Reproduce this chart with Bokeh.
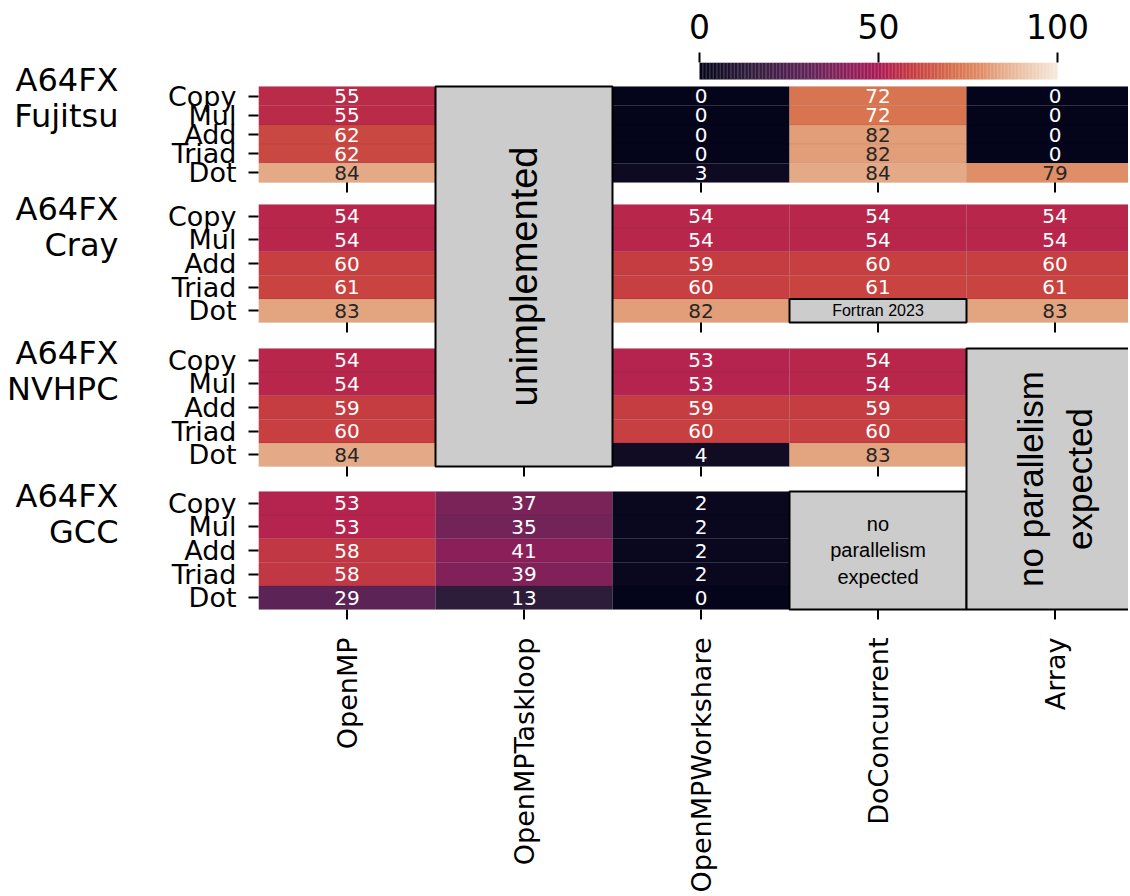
import numpy as np
from bokeh.plotting import figure
from bokeh.models import (Range1d, LinearAxis, FixedTicker, ColumnDataSource, AllLabels)
from bokeh.transform import linear_cmap
from bokeh.core.properties import value
from bokeh.embed import file_html
from bokeh.resources import INLINE

# ---------------- data ----------------
methods = ["OpenMP", "OpenMPTaskloop", "OpenMPWorkshare", "DoConcurrent", "Array"]
kernels = ["Copy", "Mul", "Add", "Triad", "Dot"]
compilers = ["A64FX\nFujitsu", "A64FX\nCray", "A64FX\nNVHPC", "A64FX\nGCC"]

# rows = kernels, columns = methods ; None = not available
fujitsu_vals = [
    [55, None, 0, 72, 0],
    [55, None, 0, 72, 0],
    [62, None, 0, 82, 0],
    [62, None, 0, 82, 0],
    [84, None, 3, 84, 79],
]
cray_vals = [
    [54, None, 54, 54, 54],
    [54, None, 54, 54, 54],
    [60, None, 59, 60, 60],
    [61, None, 60, 61, 61],
    [83, None, 82, None, 83],
]
nvhpc_vals = [
    [54, None, 53, 54, None],
    [54, None, 53, 54, None],
    [59, None, 59, 59, None],
    [60, None, 60, 60, None],
    [84, None, 4, 83, None],
]
gcc_vals = [
    [53, 37, 2, None, None],
    [53, 35, 2, None, None],
    [58, 41, 2, None, None],
    [58, 39, 2, None, None],
    [29, 13, 0, None, None],
]
group_values = [fujitsu_vals, cray_vals, nvhpc_vals, gcc_vals]

cbar_ticks = [0, 50, 100]

# annotation boxes: text, column, first (group,row), last (group,row)
box_texts = ["unimplemented", "Fortran 2023", "no\nparallelism\nexpected", "no parallelism\nexpected"]
box_cols = [1, 3, 3, 4]
box_start = [(0, 0), (1, 4), (3, 0), (2, 0)]
box_end = [(2, 4), (1, 4), (3, 4), (3, 4)]

# ---------------- layout / style ----------------
FONT = "DejaVu Sans"
BOXFONT = "Liberation Sans"
left_b, top_b = 258, 62
tick_len = 10
frame_w, frame_h = 870, 547 + tick_len + 18
col_px = 177.0
row_h = [19.2, 23.6, 23.6, 23.6]       # px per row for each group
group_top = [24, 142, 286, 429]        # px from frame top
cb_left_col, cb_right_col = 2.4915, 4.514
bar_h = 17

box_font_size = ["38px", "16px", "20px", "35px"]
box_angle = [np.pi / 2, 0, 0, np.pi / 2]
box_lh = [1.2, 1.2, 1.22, 1.28]

# colormap (rocket-like)
anchors = [(0, "#04051a"), (13, "#2e1c3b"), (29, "#5c2356"), (37, "#7a2359"),
           (41, "#8b1f59"), (50, "#a81b56"), (54, "#b8274b"), (60, "#c73f40"),
           (72, "#d8744f"), (79, "#e08d66"), (83, "#e3a47f"), (100, "#f6e9dc")]


def h2r(h):
    return [int(h[i:i + 2], 16) for i in (1, 3, 5)]


palette = []
for i in range(256):
    v = i / 255 * 100
    for (v0, c0), (v1, c1) in zip(anchors[:-1], anchors[1:]):
        if v0 <= v <= v1:
            t = (v - v0) / (v1 - v0)
            a, b = h2r(c0), h2r(c1)
            rgb = [round(a[k] + (b[k] - a[k]) * t) for k in range(3)]
            palette.append("#%02x%02x%02x" % tuple(rgb))
            break

x_end = frame_w / col_px
p = figure(frame_width=frame_w, frame_height=frame_h, output_backend="svg",
           toolbar_location=None,
           x_range=Range1d(0, x_end), y_range=Range1d(-frame_h, 0),
           min_border_left=left_b, min_border_right=0, min_border_top=top_b,
           min_border_bottom=10, outline_line_color=None,
           background_fill_color="white", border_fill_color="white")
p.grid.visible = False
scale = 100.0 / (cb_right_col - cb_left_col)
p.extra_x_ranges = {"cb": Range1d(-cb_left_col * scale, (x_end - cb_left_col) * scale)}

xa = p.below[0]
ya = p.left[0]


def row_top(g, r):
    return group_top[g] + r * row_h[g]


# ---------------- cells ----------------
xs, ys, hs, vs, ts, tcs = [], [], [], [], [], []
for g, mat in enumerate(group_values):
    for r, row in enumerate(mat):
        for c, v in enumerate(row):
            if v is None:
                continue
            xs.append(c + 0.5)
            ys.append(-(row_top(g, r) + row_h[g] / 2))
            hs.append(row_h[g])
            vs.append(v)
            ts.append(str(v))
            tcs.append("white" if v < 75 else "#262626")
src = ColumnDataSource(dict(x=xs, y=ys, h=hs, v=vs, t=ts, tc=tcs))
p.rect(x="x", y="y", width=1, height="h", source=src,
       fill_color=linear_cmap("v", palette, 0, 100), line_color="black", line_alpha=0.05)
p.text(x="x", y="y", text="t", text_color="tc", source=src, text_align="center",
       text_baseline="middle", text_font_size="20px", text_font=value(FONT))

# x-ticks under every group (each group acts like its own subplot)
sx0, sy0, sy1 = [], [], []
for g in range(len(compilers)):
    bot = row_top(g, 5)
    for c in range(len(methods)):
        sx0.append(c + 0.5)
        sy0.append(-bot)
        sy1.append(-(bot + tick_len))
p.segment(x0=sx0, y0=sy0, x1=sx0, y1=sy1, line_color="black", line_width=2)

# ---------------- colour bar ----------------
cvals = np.linspace(0, 100, 257)
p.quad(left=cvals[:-1], right=cvals[1:] + 0.05, top=0, bottom=-bar_h,
       fill_color=[palette[min(255, int(v / 100 * 256))] for v in cvals[:-1]],
       line_color=None, x_range_name="cb")

# ---------------- annotation boxes ----------------
for i, txt in enumerate(box_texts):
    c = box_cols[i]
    g0, r0 = box_start[i]
    g1, r1 = box_end[i]
    top = -row_top(g0, r0)
    bot = -row_top(g1, r1 + 1)
    p.quad(left=c, right=c + 1, top=top, bottom=bot, fill_color="#cccccc",
           line_color="black", line_width=2)
    p.text(x=[c + 0.5], y=[(top + bot) / 2], text=[txt], angle=box_angle[i],
           text_align="center", text_baseline="middle", text_color="black",
           text_font_size=box_font_size[i], text_font=value(BOXFONT),
           text_line_height=box_lh[i])

# ---------------- axes ----------------
def style_axis(ax, size, standoff):
    ax.axis_line_color = None
    ax.major_tick_out = 10
    ax.major_tick_in = 0
    ax.major_tick_line_width = 2
    ax.major_tick_line_color = "black"
    ax.minor_tick_line_color = None
    ax.major_label_text_font_size = size
    ax.major_label_text_font = FONT
    ax.major_label_text_color = "black"
    ax.major_label_standoff = standoff


xa.ticker = FixedTicker(ticks=[c + 0.5 for c in range(len(methods))])
xa.major_label_overrides = {c + 0.5: m for c, m in enumerate(methods)}
xa.major_label_orientation = np.pi / 2
style_axis(xa, "27px", 0)
xa.major_tick_out = 0
xa.major_tick_line_color = None

yticks, ylabels = [], {}
for g in range(len(compilers)):
    for r, k in enumerate(kernels):
        yv = -(row_top(g, r) + row_h[g] / 2)
        yticks.append(yv)
        ylabels[yv] = k
ya.ticker = FixedTicker(ticks=yticks)
ya.major_label_overrides = ylabels
ya.major_label_policy = AllLabels()
style_axis(ya, "27px", 12)

cb_axis = LinearAxis(x_range_name="cb", ticker=FixedTicker(ticks=cbar_ticks))
style_axis(cb_axis, "33px", 14)
p.add_layout(cb_axis, "above")

# group labels as an outer left axis
gticks, glabels = [], {}
for g, name in enumerate(compilers):
    gy = -(group_top[g] + 2.5 * row_h[g] - 36.5)
    gticks.append(gy)
    glabels[gy] = name
g_axis = LinearAxis(ticker=FixedTicker(ticks=gticks), major_label_overrides=glabels,
                    major_label_policy=AllLabels())
style_axis(g_axis, "32px", 47)
g_axis.major_tick_line_color = None
g_axis.major_tick_out = 0
g_axis.major_label_text_line_height = 0.97
p.add_layout(g_axis, "left")

open("out.html", "w").write(file_html(p, INLINE))
